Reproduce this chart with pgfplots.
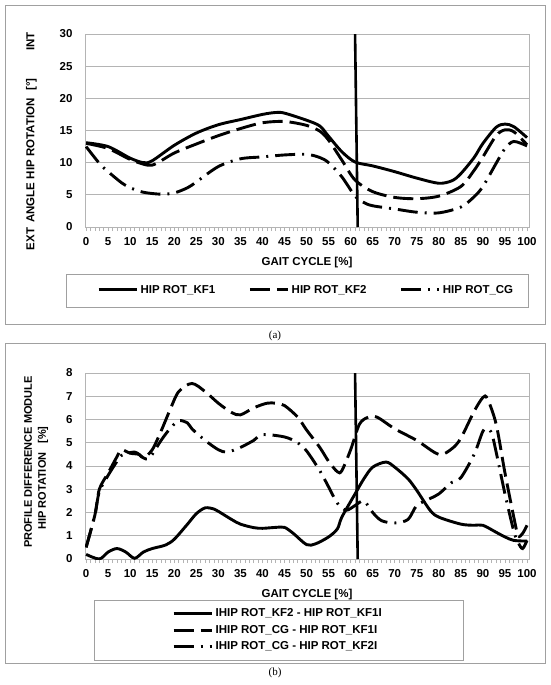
\documentclass[border=0pt]{standalone}
\usepackage{pgfplots}
\pgfplotsset{compat=1.18}
\usepackage{fontspec}
\setmainfont{Liberation Sans}
\newfontfamily\capfont{Liberation Serif}
\definecolor{gridc}{RGB}{180,180,180}
\definecolor{boxc}{RGB}{160,160,160}
\begin{document}
\begin{tikzpicture}
\path[use as bounding box] (0pt,0pt) rectangle (550pt,-685pt);
\draw[boxc, line width=0.8pt] (5pt,-5pt) rectangle (545pt,-324pt);
\draw[boxc, line width=0.8pt] (5pt,-343pt) rectangle (545pt,-663pt);
\draw[boxc, line width=0.8pt] (66pt,-274pt) rectangle (528pt,-307pt);
\draw[boxc, line width=0.8pt] (94pt,-600pt) rectangle (463pt,-660pt);
\pgfplotsset{
  base/.style={
    scale only axis, width=444pt, anchor=south west,
    xmin=-0.25, xmax=100.45,
    xtick={0,5,...,100}, minor xtick={0,1,...,100},
    tick align=outside, major tick length=4pt, minor tick length=4pt,
    xtick pos=bottom, ytick pos=left,
    ytick style={draw=none},
    xtick style={gridc, line width=0.6pt},
    minor tick style={gridc, line width=0.6pt},
    axis line style={gridc, line width=0.8pt},
    ymajorgrids, grid style={gridc, line width=0.8pt},
    /pgf/number format/assume math mode=true,
    tick label style={font=\fontsize{11.5}{13}\selectfont\bfseries},
    xticklabel style={yshift=-3pt},
    yticklabel style={xshift=-5pt},
    label style={font=\fontsize{11.5}{13}\selectfont\bfseries},
    xlabel style={yshift=-5pt},
    legend style={draw=none, fill=none, font=\fontsize{11.5}{13}\selectfont\bfseries,
      inner sep=0pt,
      /tikz/every odd column/.append style={column sep=0.5pt},
      /tikz/every even column/.append style={column sep=31pt}},
    legend image code/.code={\draw[##1] (0pt,0pt) -- (38pt,0pt);},
    every axis plot/.append style={black, line width=2.9pt, smooth, tension=0.5},
  },
  kfa/.style={solid, line width=2.9pt},
  kfb/.style={dash pattern=on 20pt off 7pt, line width=2.9pt},
  cg/.style={dash pattern=on 20pt off 7pt on 2pt off 7pt, line width=2.9pt},
}
\begin{axis}[base, at={(85pt,-227pt)}, height=193pt,
  ymin=0, ymax=30, ytick={0,5,...,30},
  xlabel={GAIT CYCLE [\%]},
  legend columns=3,
  legend style={at={(0.027,-0.326)}, anchor=west},
]
\addplot[kfa] coordinates {(0,13.1)(5,12.5)(10,10.7)(13,10.0)(15,10.3)(20,12.7)(25,14.6)(30,15.9)(35,16.7)(40,17.5)(43,17.8)(45,17.7)(50,16.6)(53,15.7)(55,14.1)(58,11.7)(61,10.1)(65,9.5)(70,8.6)(75,7.6)(80,6.8)(83,7.2)(85,8.3)(88,10.8)(90,13.0)(93,15.5)(95,16.0)(97,15.6)(100,13.9)};
\addlegendentry{HIP ROT\_KF1}
\addplot[kfb] coordinates {(0,13.0)(5,12.2)(10,10.5)(14,9.6)(16,9.9)(20,11.5)(25,12.9)(30,14.2)(35,15.3)(40,16.2)(45,16.4)(50,15.8)(53,14.9)(55,13.5)(58,10.4)(61,7.3)(65,5.5)(70,4.6)(75,4.4)(80,4.8)(85,6.3)(88,8.8)(90,10.9)(93,14.2)(95,15.1)(97,14.8)(100,12.8)};
\addlegendentry{HIP ROT\_KF2}
\addplot[cg] coordinates {(0,12.5)(3,9.9)(5,8.6)(8,6.9)(10,6.1)(13,5.4)(17,5.1)(20,5.3)(23,6.1)(25,7.0)(30,9.4)(35,10.6)(40,10.9)(45,11.2)(50,11.3)(53,10.8)(55,10.0)(58,7.8)(61,4.8)(63,3.8)(65,3.3)(70,2.8)(75,2.3)(80,2.2)(85,3.1)(88,4.7)(90,6.3)(93,9.9)(95,12.2)(97,13.3)(100,12.6)};
\addlegendentry{HIP ROT\_CG}
\addplot[forget plot, solid, sharp plot, line width=2.6pt] coordinates {(61,30)(61.6,0)};
\end{axis}
\begin{axis}[base, at={(85pt,-559pt)}, height=186pt,
  ymin=0, ymax=8, ytick={0,1,...,8},
  xlabel={GAIT CYCLE [\%]},
  legend columns=1,
  legend cell align=left,
  legend style={at={(0.196,-0.382)}, anchor=west, row sep=3pt},
]
\addplot[kfa] coordinates {(0,0.2)(3,0.0)(5,0.3)(7,0.45)(9,0.3)(11,0.03)(13,0.3)(15,0.45)(18,0.6)(20,0.85)(23,1.5)(25,1.95)(27,2.2)(29,2.15)(30,2.05)(33,1.7)(35,1.5)(38,1.35)(40,1.32)(43,1.36)(45,1.36)(47,1.1)(50,0.62)(52,0.65)(55,0.95)(57,1.3)(58,1.8)(61,2.8)(63,3.45)(65,3.95)(68,4.17)(70,3.95)(73,3.45)(75,2.95)(78,2.1)(80,1.8)(85,1.5)(88,1.45)(90,1.45)(93,1.15)(95,0.95)(97,0.8)(100,0.77)};
\addlegendentry{IHIP ROT\_KF2 - HIP ROT\_KF1I}
\addplot[kfb] coordinates {(0,0.5)(2,1.9)(3,3.0)(5,3.7)(7,4.4)(8,4.7)(10,4.55)(12,4.5)(13,4.35)(15,4.7)(17,5.5)(19,6.4)(21,7.2)(24,7.55)(27,7.2)(30,6.7)(33,6.3)(35,6.2)(38,6.5)(41,6.7)(43,6.7)(45,6.6)(48,6.1)(50,5.55)(53,4.8)(55,4.2)(57,3.75)(58,3.8)(60,4.7)(62,5.8)(64,6.1)(66,6.1)(70,5.6)(75,5.1)(80,4.5)(83,4.75)(85,5.2)(88,6.35)(90,6.95)(91,6.9)(93,5.8)(95,3.7)(97,1.8)(98,1.0)(99,1.1)(100,1.45)};
\addlegendentry{IHIP ROT\_CG - HIP ROT\_KF1I}
\addplot[cg] coordinates {(0,0.5)(2,1.9)(3,2.9)(5,3.6)(7,4.2)(8,4.45)(11,4.6)(13,4.35)(14,4.3)(15,4.5)(17,5.1)(19,5.6)(21,5.95)(23,5.85)(24,5.6)(27,5.1)(30,4.7)(32,4.6)(35,4.8)(38,5.1)(40,5.35)(45,5.25)(48,5.0)(50,4.65)(53,3.8)(55,3.1)(57,2.4)(59,2.1)(61,2.3)(63,2.5)(65,2.0)(67,1.65)(70,1.55)(73,1.7)(75,2.3)(78,2.6)(80,2.8)(83,3.3)(85,3.5)(88,4.5)(90,5.5)(91,5.6)(92,5.4)(93,4.6)(95,2.8)(97,1.2)(98,0.7)(99,0.45)(100,0.8)};
\addlegendentry{IHIP ROT\_CG - HIP ROT\_KF2I}
\addplot[forget plot, solid, sharp plot, line width=2.6pt] coordinates {(61,8)(61.6,0)};
\end{axis}
\node[rotate=90, font=\fontsize{11.5}{13}\selectfont\bfseries] at (31.5pt,-141pt)
  {\makebox[218pt][s]{EXT\hspace{5pt}ANGLE HIP ROTATION\hspace{8pt}[°]\hfill INT}};
\node[rotate=90, font=\fontsize{11}{13}\selectfont\bfseries] at (28pt,-462pt) {PROFILE DIFFERENCE MODULE};
\node[rotate=90, font=\fontsize{11}{13}\selectfont\bfseries] at (43pt,-478pt) {HIP ROTATION\hspace{9pt}[\%]};
\node[font=\capfont\fontsize{11}{13}\selectfont] at (275pt,-336pt) {(a)};
\node[font=\capfont\fontsize{11}{13}\selectfont] at (275pt,-673pt) {(b)};
\end{tikzpicture}
\end{document}
